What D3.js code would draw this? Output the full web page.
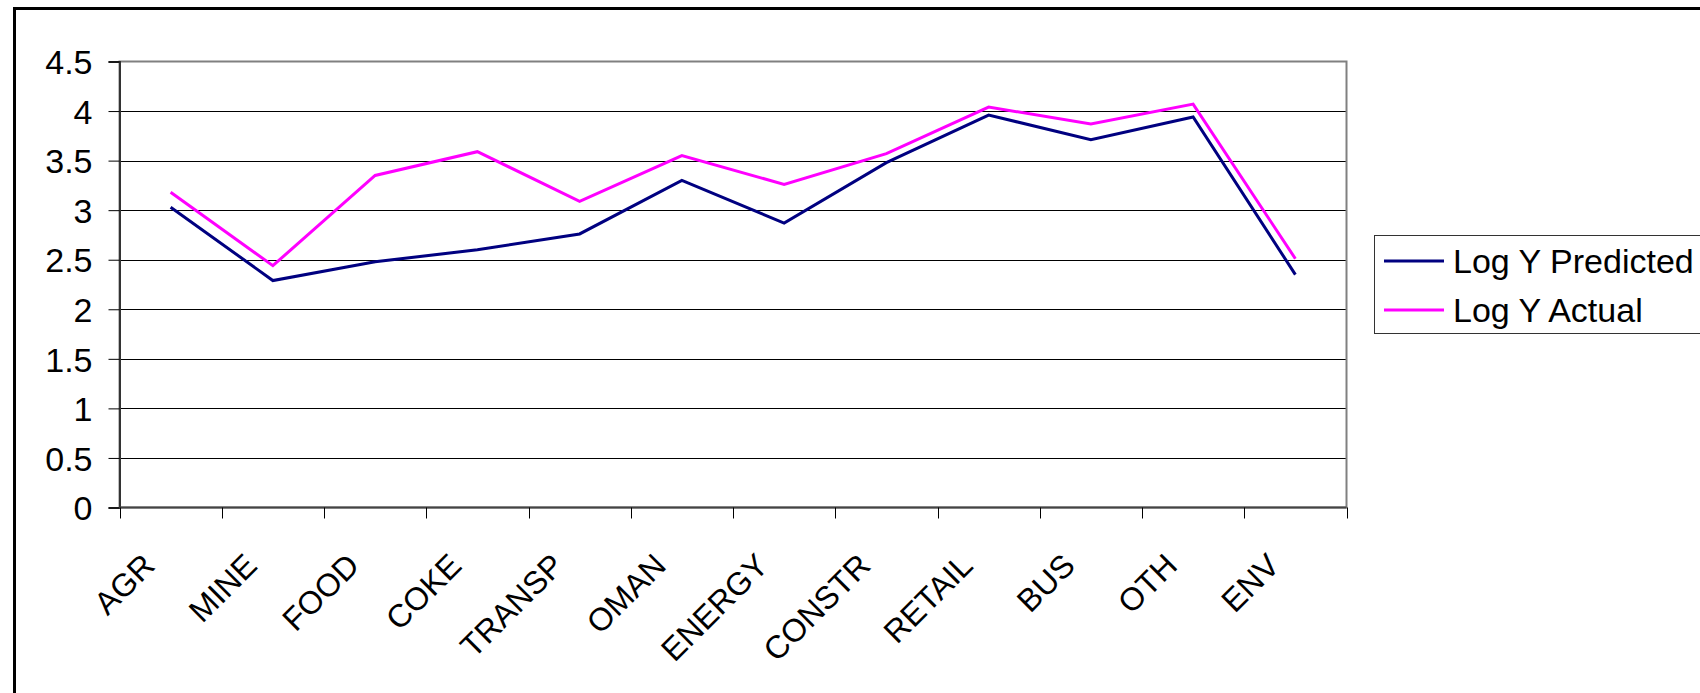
<!DOCTYPE html>
<html>
<head>
<meta charset="utf-8">
<script src="https://cdn.jsdelivr.net/npm/d3@7"></script>
<style>
  body { margin: 0; background: #fff; overflow: hidden; }
  svg { display: block; }
  text { font-family: "Liberation Sans", Arial, sans-serif; fill: #000; }
</style>
</head>
<body>
<script>
// data
const categories = ["AGR", "MINE", "FOOD", "COKE", "TRANSP", "OMAN", "ENERGY", "CONSTR", "RETAIL", "BUS", "OTH", "ENV"];
const predicted = [3.03, 2.29, 2.48, 2.60, 2.76, 3.30, 2.87, 3.48, 3.96, 3.71, 3.94, 2.35];
const actual = [3.18, 2.44, 3.35, 3.59, 3.09, 3.55, 3.26, 3.57, 4.04, 3.87, 4.07, 2.51];
const yTicks = [0, 0.5, 1, 1.5, 2, 2.5, 3, 3.5, 4, 4.5];
const yTickLabels = ["0", "0.5", "1", "1.5", "2", "2.5", "3", "3.5", "4", "4.5"];
const seriesNames = ["Log Y Predicted", "Log Y Actual"];
const seriesColors = ["#000080", "#ff00ff"];

const width = 1700;
const height = 693;
const plot = { left: 119.5, right: 1346.5, top: 61.5, bottom: 507.5 };

const svg = d3.select("body")
  .append("svg")
  .attr("width", width)
  .attr("height", height);

// outer chart frame (right/bottom edges run off the page)
svg.append("rect")
  .attr("x", 14.5)
  .attr("y", 8.5)
  .attr("width", width + 20)
  .attr("height", height + 20)
  .attr("fill", "#fff")
  .attr("stroke", "#000")
  .attr("stroke-width", 3);

const x = d3.scaleBand()
  .domain(categories)
  .range([plot.left, plot.right]);

const y = d3.scaleLinear()
  .domain([0, 4.5])
  .range([plot.bottom, plot.top]);

// gridlines
svg.append("g")
  .selectAll("line")
  .data(yTicks.slice(1, -1))
  .join("line")
  .attr("x1", plot.left)
  .attr("x2", plot.right)
  .attr("y1", d => Math.round(y(d)) + 0.5)
  .attr("y2", d => Math.round(y(d)) + 0.5)
  .attr("stroke", "#000")
  .attr("stroke-width", 1);

// plot area border
svg.append("rect")
  .attr("x", plot.left)
  .attr("y", plot.top)
  .attr("width", plot.right - plot.left)
  .attr("height", plot.bottom - plot.top)
  .attr("fill", "none")
  .attr("stroke", "#808080")
  .attr("stroke-width", 2);

// y axis
const yAxis = svg.append("g")
  .attr("transform", `translate(${plot.left},0)`)
  .call(d3.axisLeft(y)
    .tickValues(yTicks)
    .tickSize(11)
    .tickPadding(16)
    .tickFormat((d, i) => yTickLabels[i]));
yAxis.select(".domain").attr("stroke", "#333").attr("stroke-width", 2);
yAxis.selectAll(".tick line").attr("stroke", "#000");
yAxis.selectAll(".tick text")
  .style("font-size", "34px")
  .attr("dy", "0.36em");

// x axis: ticks between categories, labels rotated
const boundaries = categories.map(c => x(c)).concat([plot.right]);
svg.append("line")
  .attr("x1", plot.left)
  .attr("x2", plot.right)
  .attr("y1", plot.bottom)
  .attr("y2", plot.bottom)
  .attr("stroke", "#444")
  .attr("stroke-width", 2);
svg.append("g")
  .selectAll("line")
  .data(boundaries)
  .join("line")
  .attr("x1", d => Math.round(d) + 0.5)
  .attr("x2", d => Math.round(d) + 0.5)
  .attr("y1", plot.bottom)
  .attr("y2", plot.bottom + 11)
  .attr("stroke", "#000");

svg.append("g")
  .selectAll("text")
  .data(categories)
  .join("text")
  .attr("transform", d => `translate(${x(d) + x.bandwidth() / 2 - 14},${plot.bottom + 60}) rotate(-45)`)
  .attr("text-anchor", "end")
  .style("font-size", "32px")
  .text(d => d);

// lines
const line = d3.line()
  .x((d, i) => x(categories[i]) + x.bandwidth() / 2)
  .y(d => y(d));

[predicted, actual].forEach((values, k) => {
  svg.append("path")
    .datum(values)
    .attr("d", line)
    .attr("fill", "none")
    .attr("stroke", seriesColors[k])
    .attr("stroke-width", 3)
    .attr("stroke-linejoin", "miter");
});

// legend
const legend = svg.append("g");
legend.append("rect")
  .attr("x", 1374.5)
  .attr("y", 235.5)
  .attr("width", 400)
  .attr("height", 98)
  .attr("fill", "#fff")
  .attr("stroke", "#333")
  .attr("stroke-width", 1);

const legendItems = legend.selectAll("g")
  .data(seriesNames)
  .join("g")
  .attr("transform", (d, i) => `translate(1384,${261 + i * 49})`);
legendItems.append("line")
  .attr("x1", 0)
  .attr("x2", 60)
  .attr("stroke", (d, i) => seriesColors[i])
  .attr("stroke-width", 3);
legendItems.append("text")
  .attr("x", 69)
  .attr("dy", "0.36em")
  .style("font-size", "34px")
  .text(d => d);
</script>
</body>
</html>
